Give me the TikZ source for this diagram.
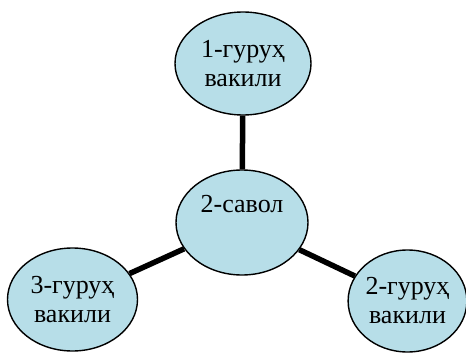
\documentclass[tikz,border=0pt]{standalone}
\usepackage{fontspec}
\setmainfont{Liberation Serif}
\usetikzlibrary{shapes.geometric}
\definecolor{bubble}{HTML}{B7DEE8}
\tikzset{
  bub/.style={ellipse, draw=black, line width=1.4pt, fill=bubble, inner sep=0pt,
    align=center, font=\fontsize{26}{29}\selectfont},
  link/.style={line width=5.5pt, draw=black}
}
\begin{document}
\begin{tikzpicture}[x=1pt,y=-1pt]
\useasboundingbox (0,0) rectangle (466,353);
\node[bub, minimum width=136pt, minimum height=103pt] (t) at (243,63.5) {1-гуруҳ\\вакили};
\node[bub, minimum width=132pt, minimum height=105pt] (c) at (242,222.5) {};
\node[font=\fontsize{26}{29}\selectfont, inner sep=0pt] (ct) at (242,204) {2-савол};
\node[bub, minimum width=130pt, minimum height=103pt] (l) at (72.5,299.5) {3-гуруҳ\\вакили};
\node[bub, minimum width=118pt, minimum height=102pt] (r) at (407.5,301) {2-гуруҳ\\вакили};
\draw[link] (t) -- (c);
\draw[link] (c) -- (l);
\draw[link] (c) -- (r);
\end{tikzpicture}
\end{document}
